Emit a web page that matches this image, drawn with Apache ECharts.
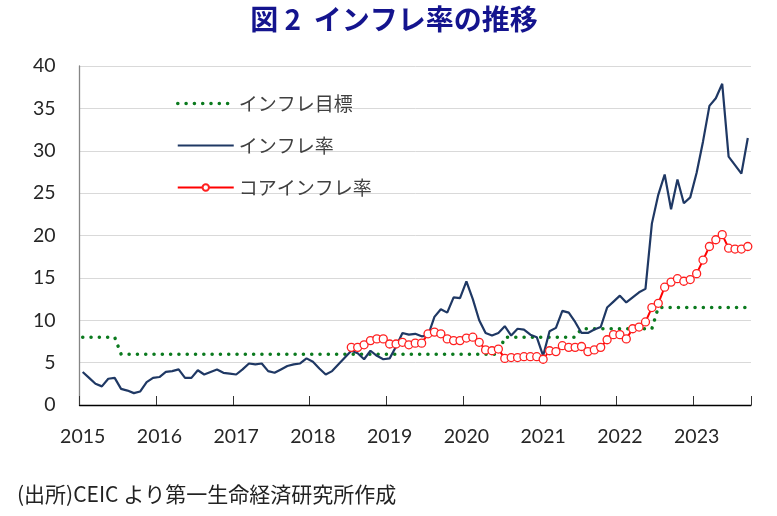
<!DOCTYPE html>
<html><head><meta charset="utf-8">
<script src="https://cdn.jsdelivr.net/npm/echarts@6/dist/echarts.min.js"></script>
<style>html,body{margin:0;padding:0;background:#fff}#c{width:777px;height:516px}</style>
</head><body><div id="c"></div>
<script>
const years = [2015,2016,2017,2018,2019,2020,2021,2022,2023];
const lastMonth2023 = 9;
const categories = [];
years.forEach(y => { const n = (y === 2023) ? lastMonth2023 : 12; for (let m = 1; m <= n; m++) categories.push(y + '-' + (m < 10 ? '0' + m : m)); });

const target = [
 8,8,8,8,8,8,6,6,6,6,6,6,
 6,6,6,6,6,6,6,6,6,6,6,6,
 6,6,6,6,6,6,6,6,6,6,6,6,
 6,6,6,6,6,6,6,6,6,6,6,6,
 6,6,6,6,6,6,6,6,6,6,6,6,
 6,6,6,6,6,6,8,8,8,8,8,8,
 8,8,8,8,8,8,9,9,9,9,9,9,
 9,9,9,9,9,9,11.5,11.5,11.5,11.5,11.5,11.5,
 11.5,11.5,11.5,11.5,11.5,11.5,11.5,11.5,11.5
];
const inflation = [
 3.9,3.2,2.5,2.2,3.1,3.2,1.9,1.7,1.4,1.6,2.7,3.2,
 3.3,3.9,4.0,4.2,3.2,3.2,4.1,3.6,3.9,4.2,3.8,3.7,
 3.6,4.2,4.9,4.8,4.9,4.0,3.8,4.2,4.6,4.8,4.9,5.5,
 5.1,4.3,3.6,4.0,4.8,5.6,6.4,6.1,5.4,6.4,5.8,5.4,
 5.5,6.9,8.5,8.3,8.4,8.1,8.2,10.4,11.3,10.9,12.7,12.6,
 14.6,12.5,10.0,8.5,8.2,8.5,9.3,8.2,9.0,8.9,8.3,8.0,
 5.8,8.7,9.1,11.1,10.9,9.8,8.5,8.5,8.9,9.2,11.5,12.2,
 12.9,12.1,12.7,13.3,13.7,21.4,24.8,27.2,23.1,26.6,23.8,24.5,
 27.4,31.1,35.3,36.2,37.9,29.3,28.3,27.3,31.5
];
const core = [
 null,null,null,null,null,null,null,null,null,null,null,null,
 null,null,null,null,null,null,null,null,null,null,null,null,
 null,null,null,null,null,null,null,null,null,null,null,null,
 null,null,null,null,null,null,6.8,6.8,7.1,7.6,7.8,7.8,
 7.2,7.2,7.4,7.1,7.3,7.3,8.4,8.6,8.4,7.8,7.6,7.6,
 7.9,8.0,7.4,6.5,6.4,6.6,5.5,5.6,5.6,5.7,5.7,5.7,
 5.4,6.4,6.3,7.0,6.8,6.8,6.9,6.3,6.5,6.8,7.7,8.3,
 8.3,7.8,9.0,9.2,9.8,11.5,12.0,13.9,14.5,14.9,14.6,14.8,
 15.5,17.1,18.7,19.5,20.1,18.5,18.4,18.4,18.7
];
const seriesNames = ['インフレ目標','インフレ率','コアインフレ率'];
const titleText = '図 2  インフレ率の推移';
const sourceText = '(出所)CEIC より第一生命経済研究所作成';

const chart = echarts.init(document.getElementById('c'), null, {renderer:'canvas'});
const numFont = 'Lato, "Noto Sans", sans-serif';
const jpFont = '"Noto Sans CJK JP", sans-serif';
chart.setOption({
  animation: false,
  backgroundColor: '#fff',
  legend: {
    orient: 'vertical', left: 171, top: 88,
    itemWidth: 56, itemHeight: 8, itemGap: 21,
    data: [
      {name: seriesNames[0], itemStyle: {opacity: 0}, lineStyle: {width: 3.5, type: [0.1, 8.2], cap: 'round', color: '#0b7a1e'}},
      {name: seriesNames[1], itemStyle: {opacity: 0}},
      {name: seriesNames[2]}
    ],
    textStyle: {fontFamily: jpFont, fontSize: 19, lineHeight: 21, color: '#404040'}
  },
  grid: {left: 79.5, right: 26, top: 66, bottom: 111, containLabel: false},
  xAxis: {
    type: 'category', data: categories, boundaryGap: true,
    axisLine: {lineStyle: {color: '#000', width: 1.3}},
    axisTick: {show: true, inside: true, length: 9, interval: 11, lineStyle: {color: '#333'}},
    axisLabel: {interval: 11, formatter: v => v.slice(0,4), fontFamily: numFont, fontSize: 19.5, color: '#262626', margin: 22},
    splitLine: {show: false}
  },
  yAxis: {
    type: 'value', min: 0, max: 40, interval: 5,
    axisLine: {show: true, lineStyle: {color: '#868686', width: 1.3}},
    axisTick: {show: false},
    axisLabel: {fontFamily: numFont, fontSize: 19.5, color: '#262626', margin: 24},
    splitLine: {lineStyle: {color: '#d9d9d9', width: 1}}
  },
  series: [
    {name: seriesNames[0], type: 'line', data: target, symbol: 'none',
     lineStyle: {color: '#0b7a1e', width: 3.5, type: [0.1, 8.2], cap: 'round'}, itemStyle: {color: '#0b7a1e'}},
    {name: seriesNames[1], type: 'line', data: inflation, symbol: 'none',
     lineStyle: {color: '#1f3864', width: 2.2}, itemStyle: {color: '#1f3864'}},
    {name: seriesNames[2], type: 'line', data: core, symbol: 'circle', symbolSize: 8, showAllSymbol: true,
     lineStyle: {color: '#ff0000', width: 2}, itemStyle: {color: '#ffffff', borderColor: '#ff2020', borderWidth: 1.3}}
  ],
  graphic: [
    {type: 'text', x: 394, y: 19, style: {text: titleText, align: 'center', verticalAlign: 'middle', font: 'bold 28px "Noto Sans CJK JP", sans-serif', fill: '#14148e'}},
    {type: 'text', left: 17, top: 484, style: {text: sourceText, font: '21px "Noto Sans CJK JP", sans-serif', fill: '#222'}}
  ]
});
</script></body></html>
